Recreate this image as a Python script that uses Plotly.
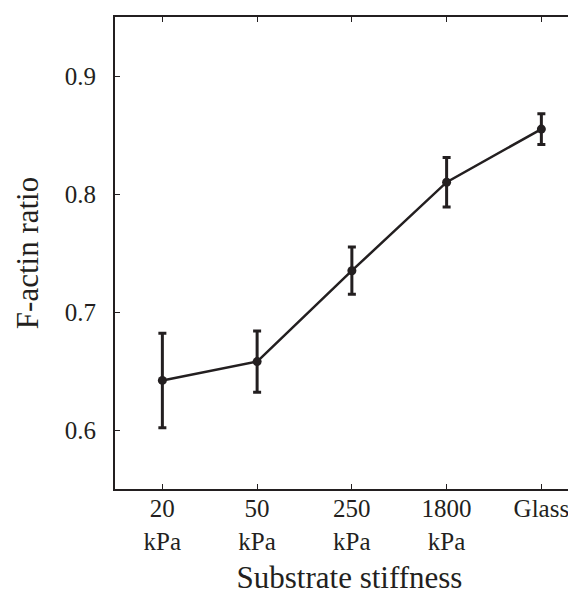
import plotly.graph_objects as go

categories = ["20<br>kPa", "50<br>kPa", "250<br>kPa", "1800<br>kPa", "Glass"]
means = [0.642, 0.658, 0.735, 0.810, 0.855]
errors = [0.040, 0.026, 0.020, 0.021, 0.013]
y_ticks = [0.6, 0.7, 0.8, 0.9]
y_tick_labels = ["0.6", "0.7", "0.8", "0.9"]

x_pos = list(range(1, len(categories) + 1))
ink = "#231f20"
font_family = "Times New Roman"

fig = go.Figure()
fig.add_trace(go.Scatter(
    x=x_pos, y=means, mode="lines+markers",
    line=dict(color=ink, width=2.5),
    marker=dict(color=ink, size=9),
    error_y=dict(type="data", array=errors, visible=True,
                 color=ink, thickness=3, width=4),
    showlegend=False,
))
# invisible trace on right axis to carry mirrored ticks
fig.add_trace(go.Scatter(x=[x_pos[0]], y=[means[0]], yaxis="y2",
                         mode="markers", marker=dict(opacity=0),
                         showlegend=False, hoverinfo="skip"))

fig.update_layout(
    width=576, height=600,
    margin=dict(l=107, r=0, t=9, b=119),
    paper_bgcolor="white", plot_bgcolor="white",
    font=dict(family=font_family, color=ink, size=25),
    xaxis=dict(
        range=[0.5, 5.45], tickvals=x_pos, ticktext=categories,
        showline=True, linecolor=ink, linewidth=2, mirror="ticks",
        ticks="inside", ticklen=5, tickwidth=1, tickcolor=ink,
        showgrid=False, zeroline=False,
        tickfont=dict(size=25, family=font_family, color=ink),
        ticklabelstandoff=-4,
        title=dict(text="Substrate stiffness",
                   font=dict(size=31, family=font_family, color=ink),
                   standoff=13),
    ),
    yaxis=dict(
        range=[0.55, 0.95], tickvals=y_ticks, ticktext=y_tick_labels,
        showline=True, linecolor=ink, linewidth=2, mirror=False,
        ticks="inside", ticklen=5, tickwidth=1, tickcolor=ink,
        showgrid=False, zeroline=False,
        tickfont=dict(size=25, family=font_family, color=ink),
        ticklabelstandoff=12,
        title=dict(text="F-actin ratio",
                   font=dict(size=31, family=font_family, color=ink),
                   standoff=17),
    ),
    yaxis2=dict(
        range=[0.55, 0.95], tickvals=y_ticks, overlaying="y", side="right",
        showline=False, ticks="inside", ticklen=3, tickwidth=1,
        tickcolor=ink, showticklabels=False, showgrid=False, zeroline=False,
    ),
)

fig.write_html("out.html")
